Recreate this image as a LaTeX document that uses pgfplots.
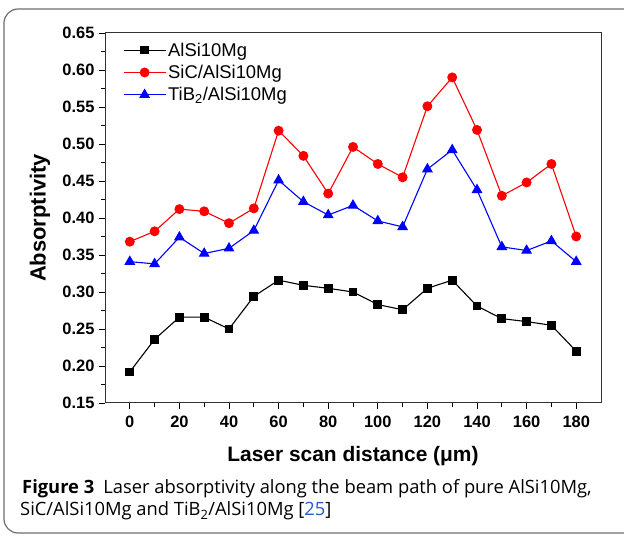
\documentclass[border=0pt]{standalone}
\usepackage{fontspec}
\setmainfont{Liberation Sans}
\newfontfamily\capfont{Open Sans}
\usepackage{pgfplots}
\pgfplotsset{compat=1.18}
\definecolor{linkblue}{RGB}{40,90,200}
\definecolor{framegray}{RGB}{110,110,110}
\begin{document}
\begin{tikzpicture}[x=1bp,y=1bp]
\useasboundingbox (0,0) rectangle (624,536);
\draw[framegray,line width=1.2bp,rounded corners=14bp] (4,3) rectangle (640,527);
\begin{axis}[
  at={(105bp,133bp)}, anchor=south west,
  width=496bp, height=370bp, scale only axis,
  xmin=-10, xmax=190, ymin=0.15, ymax=0.65,
  xtick={0,20,...,180}, minor x tick num=1,
  ytick={0.15,0.20,...,0.65}, minor y tick num=1,
  xtick pos=left, ytick pos=left, tick align=outside,
  major tick length=6bp, minor tick length=4bp,
  every tick/.style={black, line width=0.9bp},
  axis line style={line width=1bp, black!80},
  yticklabel style={/pgf/number format/fixed, /pgf/number format/fixed zerofill, /pgf/number format/precision=2, xshift=-1bp},
  /pgf/number format/assume math mode=true,
  ticklabel style={font=\fontsize{16.5}{18}\selectfont\bfseries},
  xticklabel style={yshift=-4bp},
  xlabel={Laser scan distance (μm)},
  ylabel={Absorptivity},
  label style={font=\fontsize{21}{24}\selectfont\bfseries},
  ylabel style={font=\fontsize{22}{24}\selectfont\bfseries},
  xlabel style={at={(axis description cs:0.5,0)}, anchor=base, yshift=-59bp},
  ylabel style={at={(axis description cs:-0.131,0.5)}, anchor=center},
  legend style={at={(0.03,0.985)}, anchor=north west, draw=none, fill=none,
    font=\fontsize{18.5}{20}\selectfont, row sep=3.5bp, cells={anchor=west}},
  legend image code/.code={\draw[mark repeat=2,mark phase=2,#1] plot coordinates {(0bp,0bp) (21bp,0bp) (42bp,0bp)};},
  every axis plot/.append style={line width=1.1bp},
]
\addplot[black, mark=square*, mark size=3.8bp] coordinates {
(0,0.192) (10,0.236) (20,0.266) (30,0.266) (40,0.250) (50,0.294) (60,0.316) (70,0.309) (80,0.305) (90,0.300)
(100,0.283) (110,0.276) (120,0.305) (130,0.316) (140,0.281) (150,0.264) (160,0.260) (170,0.255) (180,0.220)};
\addlegendentry{AlSi10Mg}
\addplot[red, mark=*, mark size=4.4bp] coordinates {
(0,0.368) (10,0.382) (20,0.412) (30,0.409) (40,0.393) (50,0.413) (60,0.518) (70,0.484) (80,0.433) (90,0.496)
(100,0.473) (110,0.455) (120,0.551) (130,0.590) (140,0.519) (150,0.430) (160,0.448) (170,0.473) (180,0.375)};
\addlegendentry{SiC/AlSi10Mg}
\addplot[blue, mark=triangle*, mark size=5.2bp] coordinates {
(0,0.341) (10,0.338) (20,0.374) (30,0.352) (40,0.359) (50,0.383) (60,0.451) (70,0.422) (80,0.404) (90,0.417)
(100,0.396) (110,0.388) (120,0.466) (130,0.492) (140,0.438) (150,0.361) (160,0.356) (170,0.369) (180,0.341)};
\addlegendentry{TiB\textsubscript{2}/AlSi10Mg}
\end{axis}
\node[anchor=base west, inner sep=0pt, font=\capfont\fontsize{18.4}{22}\selectfont] at (22,42.7)
  {\textbf{Figure 3}\hspace{0.5em}Laser absorptivity along the beam path of pure AlSi10Mg,};
\node[anchor=base west, inner sep=0pt, font=\capfont\fontsize{18.4}{22}\selectfont] at (20,20.3)
  {SiC/AlSi10Mg and TiB\textsubscript{2}/AlSi10Mg [\textcolor{linkblue}{25}]};
\end{tikzpicture}
\end{document}
